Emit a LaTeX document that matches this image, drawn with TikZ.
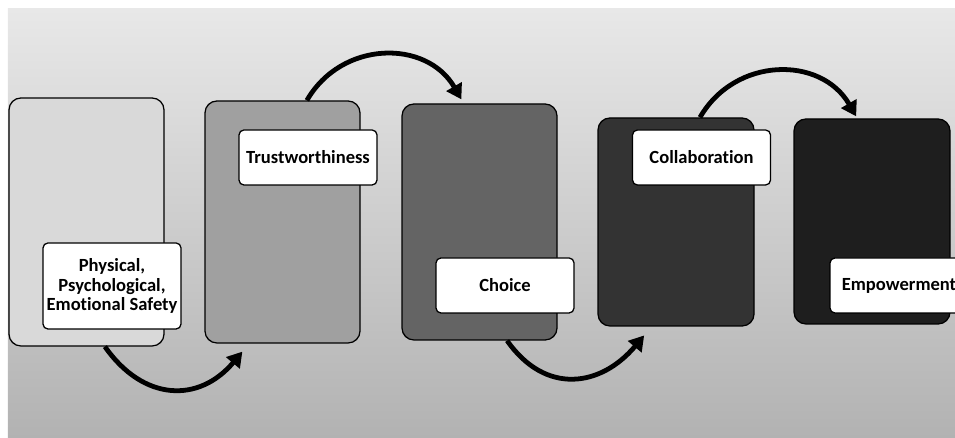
\documentclass[tikz,border=0pt]{standalone}
\usepackage{fontspec}
\setmainfont{Carlito}[Ligatures=CommonOff]
\usepackage{tikz}
\usetikzlibrary{arrows.meta}
\definecolor{bgTop}{HTML}{E8E8E8}
\definecolor{bgBottom}{HTML}{B2B2B2}
\definecolor{stageOne}{HTML}{D9D9D9}
\definecolor{stageTwo}{HTML}{A0A0A0}
\definecolor{stageThree}{HTML}{646464}
\definecolor{stageFour}{HTML}{333333}
\definecolor{stageFive}{HTML}{1E1E1E}
\tikzset{
  stage/.style={draw=black, line width=0.9pt, rounded corners=8.5pt,
    minimum width=3.875cm, inner sep=0pt},
  stage label/.style={draw=black, line width=0.9pt, fill=white,
    rounded corners=3.5pt, align=center, minimum width=3.45cm,
    minimum height=1.375cm, inner sep=2pt,
    font=\fontsize{13.2}{14}\selectfont\bfseries},
  stage arrow/.style={-{Triangle[length=3.7mm,width=4.3mm]},
    line width=3.4pt, draw=black}
}

\begin{document}
\begin{tikzpicture}
  \useasboundingbox (0,0) rectangle (23.875,10.95);
  \shade[top color=bgTop, bottom color=bgBottom]
    (0.2,0) rectangle (23.875,10.725);

  \node[stage, fill=stageOne, minimum height=6.2cm] (b1) at (2.1625,5.4) {};
  \node[stage, fill=stageTwo, minimum height=6.05cm] (b2) at (7.0625,5.4) {};
  \node[stage, fill=stageThree, minimum height=5.9cm] (b3) at (11.9875,5.4) {};
  \node[stage, fill=stageFour, minimum width=3.9cm, minimum height=5.2cm]
    (b4) at (16.9,5.4) {};
  \node[stage, fill=stageFive, minimum width=3.9cm, minimum height=5.125cm]
    (b5) at (21.8,5.4125) {};

  \draw[stage arrow] ([xshift=4.6mm]b1.south)
    to[out=-55, in=-130, looseness=1.25] ([xshift=9.5mm,yshift=-2mm]b2.south west);
  \draw[stage arrow] ([xshift=6.1mm]b2.north)
    to[out=60, in=120, looseness=1.15] ([xshift=15mm,yshift=1mm]b3.north west);
  \draw[stage arrow] ([xshift=6.9mm]b3.south)
    to[out=-55, in=-130, looseness=1.25] ([xshift=11.7mm,yshift=-2.2mm]b4.south west);
  \draw[stage arrow] ([xshift=6mm]b4.north)
    to[out=60, in=120, looseness=1.15] ([xshift=15.7mm,yshift=0.5mm]b5.north west);

  \node[stage label, minimum height=2.15cm] (l1) at (2.8,3.8)
    {Physical,\\Psychological,\\Emotional Safety};
  \node[stage label] (l2) at (7.7,7.0125) {Trustworthiness};
  \node[stage label] (l3) at (12.625,3.8125) {Choice};
  \node[stage label] (l4) at (17.5375,7.0125) {Collaboration};
  \node[stage label] (l5) at (22.475,3.8125) {Empowerment};
\end{tikzpicture}
\end{document}
